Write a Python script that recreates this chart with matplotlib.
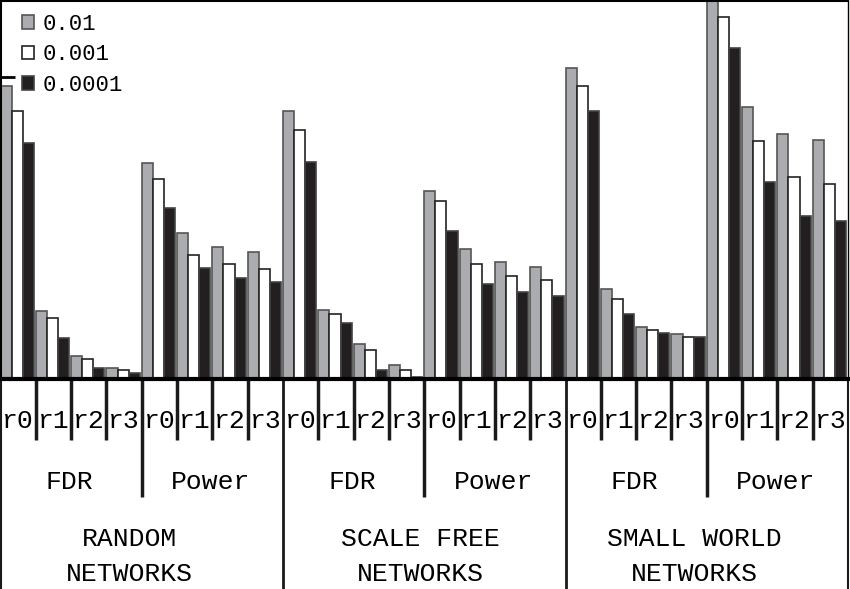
import numpy as np
import matplotlib
matplotlib.use('Agg')
import matplotlib.pyplot as plt
from matplotlib.patches import Patch

plt.rcParams['font.family'] = ['Liberation Mono', 'DejaVu Sans Mono']

# r0..r3 for FDR then Power, per network type (random, scale free, small world)
r_labels = ['r0', 'r1', 'r2', 'r3']
metrics = ['FDR', 'Power']
networks = ['RANDOM\nNETWORKS', 'SCALE FREE\nNETWORKS', 'SMALL WORLD\nNETWORKS']
thresholds = ['0.01', '0.001', '0.0001']

p01 = [0.775, 0.180, 0.061, 0.030,
       0.571, 0.385, 0.350, 0.335,
       0.709, 0.183, 0.093, 0.038,
       0.497, 0.343, 0.310, 0.297,
       0.824, 0.237, 0.137, 0.118,
       1.040, 0.719, 0.647, 0.632]
p001 = [0.709, 0.162, 0.052, 0.025,
        0.528, 0.327, 0.303, 0.290,
        0.659, 0.171, 0.077, 0.024,
        0.472, 0.304, 0.272, 0.262,
        0.775, 0.211, 0.130, 0.112,
        0.958, 0.630, 0.535, 0.516]
p0001 = [0.624, 0.109, 0.030, 0.016,
         0.453, 0.294, 0.268, 0.257,
         0.575, 0.149, 0.024, 0.004,
         0.392, 0.251, 0.229, 0.220,
         0.709, 0.171, 0.122, 0.112,
         0.875, 0.521, 0.431, 0.418]

fig = plt.figure(figsize=(8.5, 5.89), dpi=100)
ax = fig.add_axes([0.5 / 850, 1 - 379 / 589, 847.5 / 850, 378 / 589])

n = len(p01)
x = np.arange(n)
w = 0.315
styles = [('#aaacaf', '#555555'), ('white', '#222222'), ('#231f20', '#444444')]
for k, vals in enumerate([p01, p001, p0001]):
    face, edge = styles[k]
    ax.bar(x + k * w, vals, width=w, align='edge', color=face,
           edgecolor=edge, linewidth=1.2, label=thresholds[k], zorder=2)

ax.set_xlim(0, n)
ax.set_ylim(0, 1.0)
ax.set_xticks([])
ax.set_yticks([0, 0.2, 0.4, 0.6, 0.8])
ax.tick_params(axis='y', direction='in', length=10, width=2, labelleft=False)
ax.spines['left'].set_linewidth(1.5)
ax.spines['top'].set_linewidth(1.5)
ax.spines['right'].set_linewidth(1.0)
ax.spines['bottom'].set_linewidth(3)
ax.spines['bottom'].set_zorder(3)

handles = [Patch(facecolor=s[0], edgecolor=s[1], linewidth=1.2) for s in styles]
ax.legend(handles, thresholds, loc='upper left', bbox_to_anchor=(0.025, 0.966),
          frameon=False, fontsize=16, handlelength=0.55, handleheight=0.55,
          handletextpad=0.4, labelspacing=0.43, borderpad=0, borderaxespad=0)

# category labels and separators under the axis
tr = ax.get_xaxis_transform()
for i in range(n):
    ax.text(i + 0.5, -0.112, r_labels[i % 4], transform=tr, ha='center',
            va='center', fontsize=19)
for i in range(n + 1):
    if i % 8 == 0:
        y_end, lw = -0.556, (1.5 if i in (0, n) else 2)
    elif i % 4 == 0:
        y_end, lw = -0.312, 2.5
    else:
        y_end, lw = -0.161, 2.5
    ax.plot([i, i], [0, y_end], color='#1a1a1a', lw=lw, transform=tr,
            clip_on=False, solid_capstyle='butt')

for j in range(6):
    ax.text(4 * j + 1.95, -0.272, metrics[j % 2], transform=tr,
            ha='center', va='center', fontsize=19)

net_x = [3.65, 11.9, 19.65]
for j, name in enumerate(networks):
    ax.text(net_x[j], -0.470, name, transform=tr, ha='center', va='center',
            fontsize=19, linespacing=1.58, multialignment='center')

fig.savefig('out.png', dpi=100)
